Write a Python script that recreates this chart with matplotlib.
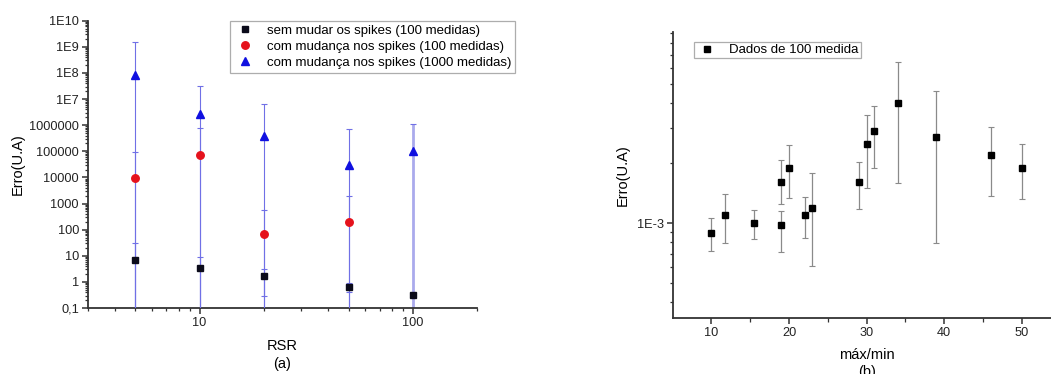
import numpy as np
import matplotlib
matplotlib.use('Agg')
import matplotlib.pyplot as plt
from matplotlib.ticker import FixedLocator, FixedFormatter, LogLocator, NullFormatter, MultipleLocator

plt.rcParams['font.family'] = ['Liberation Sans', 'DejaVu Sans']

# ---- panel (a): error vs RSR ----
rsr = [5, 10, 20, 50, 100]
sem_y = [6.9, 3.5, 1.68, 0.66, 0.32]
sem_err = [23, 5.1, 1.4, 0.25, 0.0]
rsr_red = [5, 10, 20, 50]
com100_y = [9660, 75000, 70, 188]
com100_err = [83000, 735000, 490, 1800]
com1000_y = [8.6e7, 2.7e6, 3.9e5, 2.9e4, 1.0e5]
com1000_err = [1.5e9, 3.0e7, 5.9e6, 6.7e5, 1.0e6]
ytick_vals = [0.1, 1, 10, 100, 1000, 10000, 100000, 1000000, 1e7, 1e8, 1e9, 1e10]
ytick_labels = ['0,1', '1', '10', '100', '1000', '10000', '100000', '1000000',
                '1E7', '1E8', '1E9', '1E10']
labels_a = ['sem mudar os spikes (100 medidas)',
            'com mudança nos spikes (100 medidas)',
            'com mudança nos spikes (1000 medidas)']

# ---- panel (b): error vs max/min ----
mm = [10, 11.7, 15.5, 19, 19, 20, 22, 23, 29, 30, 31, 34, 39, 46, 50]
erro_b = [8.9e-4, 1.097e-3, 1.0e-3, 1.6e-3, 9.8e-4, 1.897e-3, 1.097e-3, 1.195e-3,
          1.6e-3, 2.49e-3, 2.895e-3, 3.99e-3, 2.69e-3, 2.19e-3, 1.897e-3]
erro_b_hi = [1.064e-3, 1.404e-3, 1.162e-3, 2.06e-3, 1.145e-3, 2.45e-3, 1.357e-3, 1.78e-3,
             2.02e-3, 3.5e-3, 3.88e-3, 6.4e-3, 4.6e-3, 3.03e-3, 2.48e-3]
erro_b_lo = [7.2e-4, 7.97e-4, 8.35e-4, 1.25e-3, 7.15e-4, 1.33e-3, 8.45e-4, 6.11e-4,
             1.18e-3, 1.505e-3, 1.897e-3, 1.595e-3, 7.97e-4, 1.36e-3, 1.315e-3]

W, H = 1051, 374
fig = plt.figure(figsize=(W / 100, H / 100), dpi=100)
TS = 9.2
LS = 10.5

def style(ax):
    for s in ('top', 'right'):
        ax.spines[s].set_visible(False)
    for s in ('left', 'bottom'):
        ax.spines[s].set_linewidth(1.3)
        ax.spines[s].set_color('#333333')
    ax.tick_params(which='major', direction='out', length=4, width=1.1, pad=2.5,
                   labelsize=TS, colors='#333333', labelcolor='#222222')
    ax.tick_params(which='minor', direction='out', length=2.2, width=0.9, colors='#333333')

# panel (a)
ax1 = fig.add_axes([88 / W, 1 - 308 / H, (477 - 88) / W, (308 - 20.7) / H])
ax1.set_xscale('log'); ax1.set_yscale('log')
ec = '#7070e6'
e1 = ax1.errorbar(rsr, sem_y, yerr=sem_err, fmt='s', color='#0b0b1a', ms=5,
                  ecolor=ec, elinewidth=0.8, capsize=2.5, capthick=0.8, label=labels_a[0], zorder=3)
e2 = ax1.errorbar(rsr_red, com100_y, yerr=com100_err, fmt='o', color='#e5121c', ms=5.4,
                  ecolor=ec, elinewidth=0.8, capsize=2.5, capthick=0.8, label=labels_a[1], zorder=3)
e3 = ax1.errorbar(rsr, com1000_y, yerr=com1000_err, fmt='^', color='#1010e0', ms=6.2,
                  ecolor=ec, elinewidth=0.8, capsize=2.5, capthick=0.8, label=labels_a[2], zorder=2)
for cap in e2[1]:
    cap.set_color('#d0a8d8')
e3[2][0].set_linewidth([0.8, 0.8, 0.8, 0.8, 2.0])
e3[2][0].set_color([ec, ec, ec, ec, '#aaaaec'])
ax1.set_xlim(3, 200)
ax1.set_ylim(0.1, 1e10)
ax1.yaxis.set_major_locator(FixedLocator(ytick_vals))
ax1.yaxis.set_major_formatter(FixedFormatter(ytick_labels))
ax1.yaxis.set_minor_locator(LogLocator(base=10, subs=np.arange(2, 10), numticks=30))
ax1.yaxis.set_minor_formatter(NullFormatter())
ax1.xaxis.set_major_locator(FixedLocator([10, 100]))
ax1.xaxis.set_major_formatter(FixedFormatter(['10', '100']))
ax1.xaxis.set_minor_locator(LogLocator(base=10, subs=np.arange(2, 10), numticks=30))
ax1.xaxis.set_minor_formatter(NullFormatter())
style(ax1)
ax1.set_ylabel('Erro(U.A)', fontsize=LS)
ax1.yaxis.set_label_coords(-(88 - 25) / (477 - 88), 0.5)
ax1.set_xlabel('RSR\n(a)', fontsize=LS, linespacing=1.35)
ax1.xaxis.set_label_coords(0.5, -(339 - 308) / 287.3)
leg1 = fig.legend(handles=[e1[0], e2[0], e3[0]], labels=labels_a, loc='upper left',
                  bbox_to_anchor=(230 / W, 1 - 20.7 / H), fontsize=9.55, frameon=True,
                  fancybox=False, edgecolor='#999999', borderpad=0.3, labelspacing=0.27,
                  handletextpad=0.9, handlelength=1.6, borderaxespad=0)
leg1.get_frame().set_linewidth(0.9)

# panel (b)
ax2 = fig.add_axes([672.7 / W, 1 - 317.7 / H, (1060.5 - 672.7) / W, (317.7 - 32.3) / H])
ax2.set_yscale('log')
yerr_b = [np.array(erro_b) - np.array(erro_b_lo), np.array(erro_b_hi) - np.array(erro_b)]
e4 = ax2.errorbar(mm, erro_b, yerr=yerr_b, fmt='s', color='black', ms=5,
                  ecolor='#8a8a8a', elinewidth=0.9, capsize=2.5, capthick=0.8)
ax2.set_xlim(5, 55)
ax2.set_ylim(3.35e-4, 9.05e-3)
ax2.xaxis.set_major_locator(MultipleLocator(10))
ax2.xaxis.set_minor_locator(FixedLocator([15, 25, 35, 45]))
ax2.yaxis.set_major_locator(FixedLocator([1e-3]))
ax2.yaxis.set_major_formatter(FixedFormatter(['1E-3']))
ax2.yaxis.set_minor_locator(LogLocator(base=10, subs=np.arange(2, 10), numticks=30))
ax2.yaxis.set_minor_formatter(NullFormatter())
style(ax2)
ax2.tick_params(axis='x', which='minor', length=3)
ax2.set_ylabel('Erro(U.A)', fontsize=LS)
ax2.yaxis.set_label_coords(-(672.7 - 629.5) / (1060.5 - 672.7), 0.5)
ax2.set_xlabel('máx/min\n(b)', fontsize=LS, linespacing=1.25)
ax2.xaxis.set_label_coords(0.5, -(348 - 317.7) / 285.4)
leg2 = fig.legend(handles=[e4[0]], labels=['Dados de 100 medida'], loc='upper left',
                  bbox_to_anchor=(694 / W, 1 - 42 / H), fontsize=9.55, frameon=True,
                  fancybox=False, edgecolor='#999999', borderpad=0.15,
                  handletextpad=0.9, handlelength=1.6, borderaxespad=0)
leg2.get_frame().set_linewidth(0.9)

fig.savefig('out.png', dpi=100)
